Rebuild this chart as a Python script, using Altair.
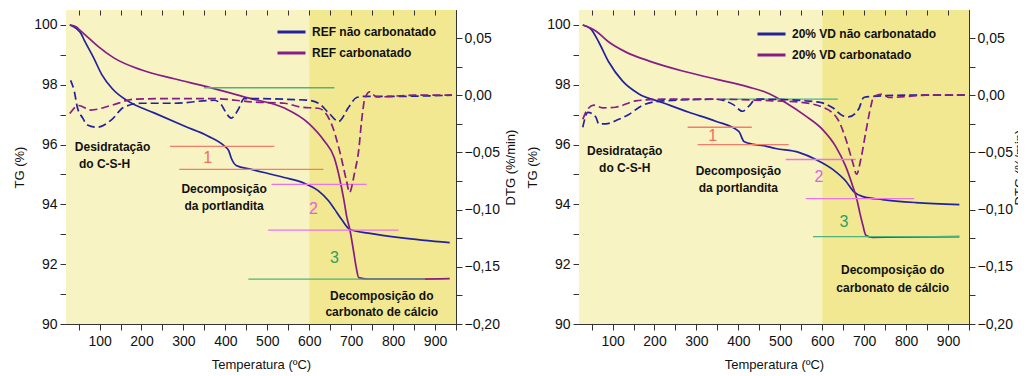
import altair as alt
import pandas as pd

FONT = "Liberation Sans"
BLUE = "#22229e"
PURPLE = "#861c86"

# ---------------- Panel A: REF ----------------
ref_names = ["REF não carbonatado", "REF carbonatado"]

ref_nc_T = [29, 45, 55, 65, 86, 105, 131, 167, 230, 302, 358, 398, 408, 414, 426, 462, 540, 586, 622, 646, 660, 677, 697, 741, 821, 935]
ref_nc_TG = [100, 99.88, 99.73, 99.45, 98.9, 98.35, 97.86, 97.46, 97.06, 96.62, 96.29, 95.95, 95.8, 95.55, 95.3, 95.17, 94.9, 94.72, 94.45, 94.12, 93.85, 93.5, 93.16, 93.04, 92.88, 92.72]

ref_c_T = [29, 45, 55, 75, 95, 134, 199, 278, 358, 454, 541, 598, 636, 660, 672, 682, 690, 697, 705, 712, 718, 740, 800, 935]
ref_c_TG = [100, 99.93, 99.8, 99.55, 99.3, 98.9, 98.5, 98.2, 97.93, 97.56, 97.22, 96.72, 96.12, 95.55, 94.9, 94.2, 93.55, 93.15, 92.5, 91.9, 91.55, 91.5, 91.5, 91.52]

ref_nc_dT = [31, 40, 47, 60, 71, 95, 127, 158, 199, 278, 373, 390, 398, 414, 430, 445, 462, 598, 622, 648, 670, 694, 713, 732, 800, 940]
ref_nc_DTG = [0.013, 0.003, -0.0105, -0.02, -0.026, -0.028, -0.022, -0.0105, -0.007, -0.007, -0.0044, -0.008, -0.013, -0.02, -0.013, -0.003, -0.003, -0.0044, -0.007, -0.016, -0.023, -0.0105, -0.002, -0.001, -0.001, 0.0]

ref_c_dT = [29, 50, 79, 127, 182, 263, 373, 469, 541, 581, 622, 653, 672, 689, 696, 708, 718, 725, 732, 744, 761, 850, 940]
ref_c_DTG = [-0.016, -0.009, -0.013, -0.009, -0.0035, -0.003, -0.003, -0.006, -0.007, -0.0105, -0.0114, -0.025, -0.048, -0.075, -0.085, -0.068, -0.048, -0.022, -0.004, 0.003, -0.0015, 0.0, 0.0]

ref_seg_x0 = [268, 290, 510, 502, 349, 455]
ref_seg_x1 = [517, 634, 737, 813, 660, 876]
ref_seg_y = [95.94, 95.17, 94.67, 93.14, 97.9, 91.5]
ref_seg_c = ["#f47c6c", "#f47c6c", "#ee72e6", "#ee72e6", "#4db57c", "#4db57c"]

ref_lab_txt = ["1", "2", "3"]
ref_lab_T = [358, 610, 660]
ref_lab_TG = [95.55, 93.85, 92.2]
ref_lab_c = ["#f0705e", "#e060e0", "#2e9e62"]

ref_note_txt = ["Desidratação", "do C-S-H", "Decomposição", "da portlandita", "Decomposição do", "carbonato de cálcio"]
ref_note_T = [131, 112, 397, 397, 773, 773]
ref_note_TG = [95.92, 95.35, 94.52, 93.95, 90.94, 90.40]

# ---------------- Panel B: 20% VD ----------------
vd_names = ["20% VD não carbonatado", "20% VD carbonatado"]

vd_nc_T = [29, 48, 67, 91, 124, 162, 220, 282, 346, 401, 413, 425, 465, 489, 544, 585, 625, 656, 675, 697, 744, 823, 927]
vd_nc_TG = [100, 99.87, 99.43, 98.76, 98.12, 97.7, 97.4, 97.08, 96.78, 96.44, 96.11, 96.04, 95.95, 95.87, 95.74, 95.5, 95.17, 94.78, 94.43, 94.26, 94.16, 94.06, 93.99]

vd_c_T = [29, 60, 91, 131, 186, 267, 346, 425, 465, 513, 561, 601, 632, 656, 673, 682, 690, 697, 704, 720, 927]
vd_c_TG = [100, 99.8, 99.43, 99.1, 98.8, 98.46, 98.19, 97.92, 97.75, 97.4, 96.95, 96.5, 95.94, 95.27, 94.6, 94.2, 93.7, 93.3, 92.97, 92.9, 92.92]

vd_nc_dT = [29, 41, 60, 67, 84, 115, 138, 172, 220, 346, 387, 410, 425, 442, 465, 592, 625, 649, 663, 687, 699, 721, 800, 940]
vd_nc_DTG = [-0.028, -0.015, -0.019, -0.025, -0.025, -0.021, -0.017, -0.0087, -0.005, -0.0035, -0.008, -0.014, -0.0096, -0.0035, -0.0035, -0.006, -0.011, -0.018, -0.019, -0.012, -0.002, -0.001, 0.0, 0.0]

vd_c_dT = [29, 41, 55, 76, 107, 155, 220, 346, 489, 544, 601, 637, 656, 673, 682, 692, 704, 716, 723, 745, 759, 850, 940]
vd_c_DTG = [-0.021, -0.012, -0.0087, -0.011, -0.0105, -0.005, -0.0035, -0.0035, -0.005, -0.006, -0.0105, -0.021, -0.038, -0.059, -0.069, -0.056, -0.032, -0.0096, -0.001, 0.001, -0.002, 0.0, 0.0]

vd_seg_x0 = [279, 303, 513, 561, 363, 578]
vd_seg_x1 = [432, 520, 680, 819, 637, 926]
vd_seg_y = [96.58, 96.0, 95.5, 94.19, 97.52, 92.92]
vd_seg_c = ref_seg_c

vd_lab_txt = ["1", "2", "3"]
vd_lab_T = [339, 592, 652]
vd_lab_TG = [96.28, 94.93, 93.42]
vd_lab_c = ref_lab_c

vd_note_txt = ["Desidratação", "do C-S-H", "Decomposição", "da portlandita", "Decomposição do", "carbonato de cálcio"]
vd_note_T = [129, 129, 400, 400, 768, 768]
vd_note_TG = [95.77, 95.23, 95.13, 94.56, 91.81, 91.21]

# shading
shade_x0 = [20, 600]
shade_x1 = [600, 950]
shade_c = ["#f8f3c2", "#f1e891"]

x_ticks = list(range(50, 951, 50))
tg_ticks = list(range(90, 101))
dtg_ticks = [-0.2, -0.175, -0.15, -0.125, -0.1, -0.075, -0.05, -0.025, 0.0, 0.025, 0.05]

W, H = 390, 314


def panel(names, tg_pairs, dtg_pairs, segs, labs, notes, legx, legy, dtg_title_pad):
    xs = alt.Scale(domain=[20, 950], nice=False, zero=False)
    ts = alt.Scale(domain=[90, 100.5], nice=False, zero=False)
    ds = alt.Scale(domain=[-0.2, 0.0745], nice=False, zero=False)
    cs = alt.Scale(domain=names, range=[BLUE, PURPLE])

    shade = pd.DataFrame({"x0": shade_x0, "x1": shade_x1, "c": shade_c})
    bg = alt.Chart(shade).mark_rect().encode(
        x=alt.X("x0:Q", scale=xs, axis=alt.Axis(orient="top", values=x_ticks, labels=False,
                                                  title=None, domain=False, zindex=2,
                                                  tickSize=alt.ExprRef(expr="-5"))),
        x2="x1:Q",
        y=alt.datum(90, scale=ts, axis=None),
        y2=alt.datum(100.5),
        fill=alt.Fill("c:N", scale=None),
    )

    rows = []
    for name, (T, V) in zip(names, tg_pairs):
        rows += [{"T": t, "TG": v, "s": name} for t, v in zip(T, V)]
    tgdf = pd.DataFrame(rows)
    rows = []
    for name, (T, V) in zip(names, dtg_pairs):
        rows += [{"T": t, "D": v, "s": name} for t, v in zip(T, V)]
    ddf = pd.DataFrame(rows)

    legend = alt.Legend(orient="none", legendX=legx, legendY=legy, title=None,
                        symbolType="stroke", symbolSize=784, symbolStrokeWidth=3,
                        labelFont=FONT, labelFontSize=12, labelFontWeight="bold",
                        labelColor="#111", clipHeight=16, rowPadding=5, labelOffset=5)

    tg_lines = alt.Chart(tgdf).mark_line(strokeWidth=1.7, interpolate="monotone").encode(
        x=alt.X("T:Q", scale=xs, axis=alt.Axis(orient="bottom", values=x_ticks,
                                                 labelExpr="datum.value % 100 == 0 ? datum.label : ''",
                                                 title="Temperatura (ºC)", tickSize=6,
                                                 labelPadding=4, titlePadding=10)),
        y=alt.Y("TG:Q", scale=ts, axis=alt.Axis(orient="left", values=tg_ticks,
                                                  labelExpr="datum.value % 2 == 0 ? datum.label : ''",
                                                  title="TG (%)", tickSize=6, labelPadding=3,
                                                  titlePadding=7)),
        color=alt.Color("s:N", scale=cs, legend=legend),
    )

    sx0, sx1, sy, sc = segs
    segdf = pd.DataFrame({"x0": sx0, "x1": sx1, "y": sy, "c": sc})
    seg = alt.Chart(segdf).mark_rule(strokeWidth=1.3).encode(
        x=alt.X("x0:Q", scale=xs, axis=None), x2="x1:Q",
        y=alt.Y("y:Q", scale=ts, axis=None),
        stroke=alt.Stroke("c:N", scale=None),
    )

    lt, lx, ly, lc = labs
    labdf = pd.DataFrame({"t": lt, "x": lx, "y": ly, "c": lc})
    lab = alt.Chart(labdf).mark_text(font=FONT, fontSize=16).encode(
        x=alt.X("x:Q", scale=xs, axis=None),
        y=alt.Y("y:Q", scale=ts, axis=None),
        text="t:N", fill=alt.Fill("c:N", scale=None),
    )

    nt, nx, ny = notes
    notedf = pd.DataFrame({"t": nt, "x": nx, "y": ny})
    note = alt.Chart(notedf).mark_text(font=FONT, fontSize=12, fontWeight="bold", color="#111").encode(
        x=alt.X("x:Q", scale=xs, axis=None),
        y=alt.Y("y:Q", scale=ts, axis=None),
        text="t:N",
    )

    dtg = alt.Chart(ddf).mark_line(strokeWidth=1.7, strokeDash=[8, 4], interpolate="monotone").encode(
        x=alt.X("T:Q", scale=xs, axis=None),
        y=alt.Y("D:Q", scale=ds, axis=alt.Axis(orient="right", values=dtg_ticks,
                                                 labelExpr="abs(round(datum.value*1000)) % 50 == 0 ? replace(format(datum.value, '.2f'), '.', ',') : ''",
                                                 title="DTG (%/min)", tickSize=6, labelPadding=2,
                                                 titlePadding=dtg_title_pad, titleAngle=270,
                                                 titleBaseline="top")),
        color=alt.Color("s:N", scale=cs, legend=legend),
    )

    return alt.layer(bg, tg_lines, seg, lab, note, dtg).resolve_scale(y="independent").properties(width=W, height=H)


p1 = panel(ref_names,
           [(ref_nc_T, ref_nc_TG), (ref_c_T, ref_c_TG)],
           [(ref_nc_dT, ref_nc_DTG), (ref_c_dT, ref_c_DTG)],
           (ref_seg_x0, ref_seg_x1, ref_seg_y, ref_seg_c),
           (ref_lab_txt, ref_lab_T, ref_lab_TG, ref_lab_c),
           (ref_note_txt, ref_note_T, ref_note_TG),
           210, 14, 5)
p2 = panel(vd_names,
           [(vd_nc_T, vd_nc_TG), (vd_c_T, vd_c_TG)],
           [(vd_nc_dT, vd_nc_DTG), (vd_c_dT, vd_c_DTG)],
           (vd_seg_x0, vd_seg_x1, vd_seg_y, vd_seg_c),
           (vd_lab_txt, vd_lab_T, vd_lab_TG, vd_lab_c),
           (vd_note_txt, vd_note_T, vd_note_TG),
           177, 16, 1)

chart = alt.hconcat(p1, p2, spacing=8).resolve_scale(
    color="independent", x="independent", y="independent"
).resolve_legend(color="independent").properties(
    padding={"top": 1, "left": 5, "right": -9, "bottom": 0}
).configure_view(stroke="#333", strokeWidth=1).configure_axis(
    labelFont=FONT, titleFont=FONT, labelFontSize=14, titleFontSize=13,
    titleFontWeight="normal", labelColor="#111", titleColor="#111",
    tickColor="#333", domainColor="#333", grid=False
)

chart.save("out.html", embed_options={"renderer": "svg", "actions": False})
